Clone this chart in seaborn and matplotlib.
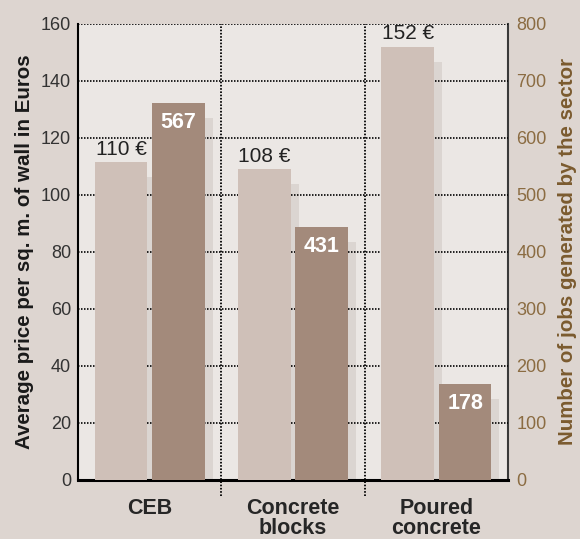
import matplotlib
matplotlib.use("Agg")
import matplotlib.pyplot as plt
import matplotlib.transforms as mtransforms
from matplotlib.patches import Rectangle
import pandas as pd
import seaborn as sns

categories = ["CEB", "Concrete\nblocks", "Poured\nconcrete"]
price_eur = [111.5, 109, 152]
price_labels = ["110 €", "108 €", "152 €"]
jobs_bar = [661, 443, 168]
jobs_labels = ["567", "431", "178"]
jobs_per_price_unit = 5

df = pd.DataFrame({
    "Material": categories * 2,
    "Series": ["price"] * 3 + ["jobs"] * 3,
    "Value": price_eur + [j / jobs_per_price_unit for j in jobs_bar],
})

sns.set_theme(style="white")
plt.rcParams["font.family"] = ["Liberation Sans", "DejaVu Sans"]

fig = plt.figure(figsize=(5.8, 5.39), dpi=100, facecolor="#ddd5d0")
ax = fig.add_axes([0.1345, 0.1095, 0.7415, 0.846])
ax.set_facecolor("#ebe7e4")

sns.barplot(data=df, x="Material", y="Value", hue="Series",
            hue_order=["price", "jobs"], palette=["#cfc0b8", "#a38a7b"],
            width=0.8, gap=0.08, saturation=1, legend=False, ax=ax,
            zorder=3, linewidth=0)

# drop shadows behind the bars
shadow_tr = mtransforms.offset_copy(ax.transData, fig=fig, x=8, y=-15, units="dots")
bars = list(ax.patches)
for p in bars:
    sh = Rectangle((p.get_x(), p.get_y()), p.get_width(), p.get_height(),
                   transform=shadow_tr, facecolor="#dbd5d1", linewidth=0, zorder=1)
    sh.set_clip_path(ax.patch)
    ax.add_patch(sh)

price_bars = bars[:3]
jobs_bars = bars[3:]
for p, lab in zip(price_bars, price_labels):
    ax.text(p.get_x() + p.get_width() / 2, p.get_height() + 1.2, lab,
            ha="center", va="bottom", fontsize=15, color="#222222", zorder=5)
for p, lab in zip(jobs_bars, jobs_labels):
    ax.text(p.get_x() + p.get_width() / 2, p.get_height() - 3, lab,
            ha="center", va="top", fontsize=15.5, fontweight="bold",
            color="white", zorder=5)

ax.set_ylim(0, 160)
ax.set_xlim(-0.5, 2.5)
ax.set_yticks(range(0, 161, 20))
ax.set_axisbelow("line")
ax.yaxis.grid(True, color="black", linestyle=(0, (0.9, 0.9)), linewidth=1.2)
for xs in [0.5, 1.5]:
    ax.axvline(xs, ymin=-0.035, ymax=1, color="black", linestyle=(0, (0.9, 0.9)),
               linewidth=1.3, clip_on=False, zorder=2)

ax.tick_params(axis="y", length=0, pad=5, labelsize=13, labelcolor="#333333")
ax.tick_params(axis="x", length=0, pad=13, labelsize=15.5)
for t in ax.get_xticklabels():
    t.set_fontweight("bold")
    t.set_linespacing(0.95)
ax.set_xlabel("")
ax.set_ylabel("Average price per sq. m. of wall in Euros", fontsize=14.8,
              fontweight="bold", color="#1a1a1a", labelpad=5)

for s in ["top", "right"]:
    ax.spines[s].set_visible(False)
ax.spines["left"].set_color("black")
ax.spines["left"].set_linewidth(1.5)
ax.spines["bottom"].set_color("black")
ax.spines["bottom"].set_linewidth(2.2)

sec = ax.secondary_yaxis("right", functions=(lambda v: v * jobs_per_price_unit,
                                             lambda v: v / jobs_per_price_unit))
sec.set_yticks(range(0, 801, 100))
sec.tick_params(length=0, pad=6, labelsize=13, labelcolor="#8b6c42")
sec.spines["right"].set_color("#3a3a3a")
sec.spines["right"].set_linewidth(1.5)
fig.text(0.979, 0.533, "Number of jobs generated by the sector", rotation=90,
         ha="center", va="center", fontsize=14.8, fontweight="bold",
         color="#7b5b2f")

fig.savefig("out.png", dpi=100, facecolor=fig.get_facecolor())
